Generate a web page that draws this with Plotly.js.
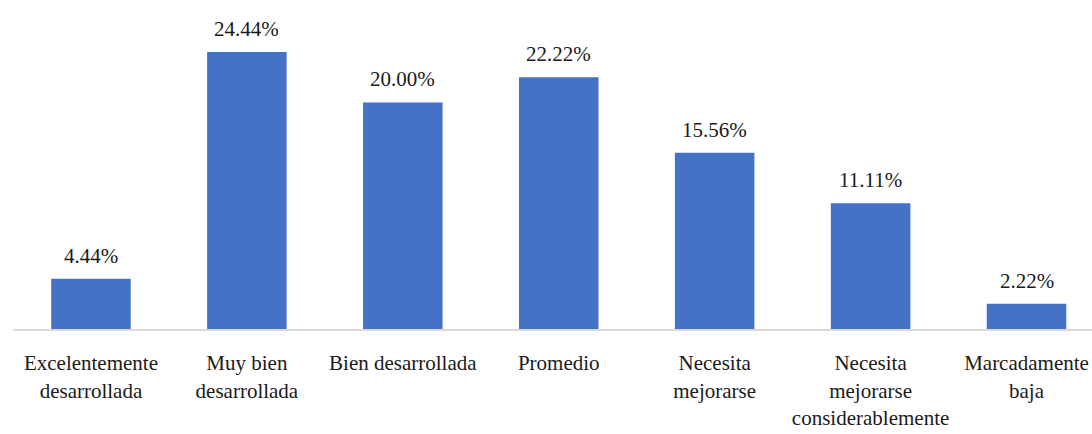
<!DOCTYPE html>
<html>
<head>
<meta charset="utf-8">
<script src="https://cdn.plot.ly/plotly-3.0.1.min.js"></script>
<style>
html,body{margin:0;padding:0;background:#fff;}
#chart{width:1092px;height:434px;}
</style>
</head>
<body>
<div id="chart"></div>
<script>
const categories = ["Excelentemente<br>desarrollada", "Muy bien<br>desarrollada", "Bien desarrollada", "Promedio", "Necesita<br>mejorarse", "Necesita<br>mejorarse<br>considerablemente", "Marcadamente<br>baja"];
const values = [4.44, 24.44, 20.00, 22.22, 15.56, 11.11, 2.22];
const valueLabels = ["4.44%", "24.44%", "20.00%", "22.22%", "15.56%", "11.11%", "2.22%"];

const positions = values.map((v, i) => i);

const trace = {
  type: "bar",
  x: positions,
  y: values,
  marker: {color: "#4472C4"},
  width: 0.51,
  hoverinfo: "none"
};

const annotations = values.map((v, i) => ({
  x: positions[i], y: v, xref: "x", yref: "y",
  text: valueLabels[i], showarrow: false,
  yanchor: "bottom", yshift: 9,
  font: {family: "Liberation Serif", size: 21, color: "#1a1a1a"}
}));

const layout = {
  width: 1092, height: 434,
  margin: {l: 13, r: 0, t: 0, b: 105},
  paper_bgcolor: "#fff", plot_bgcolor: "#fff",
  showlegend: false,
  xaxis: {
    range: [-0.5, 6.42],
    tickmode: "array",
    tickvals: positions,
    ticktext: categories,
    showgrid: false, zeroline: false,
    showline: true, linecolor: "#d9d9d9", linewidth: 2,
    ticks: "", ticklabelstandoff: 14,
    tickfont: {family: "Liberation Serif", size: 21, color: "#1a1a1a"},
    fixedrange: true
  },
  yaxis: {
    range: [0, 29.04],
    showgrid: false, zeroline: false, showline: false,
    showticklabels: false, ticks: "",
    fixedrange: true
  },
  annotations: annotations
};

Plotly.newPlot("chart", [trace], layout, {displayModeBar: false, staticPlot: true});
</script>
</body>
</html>
